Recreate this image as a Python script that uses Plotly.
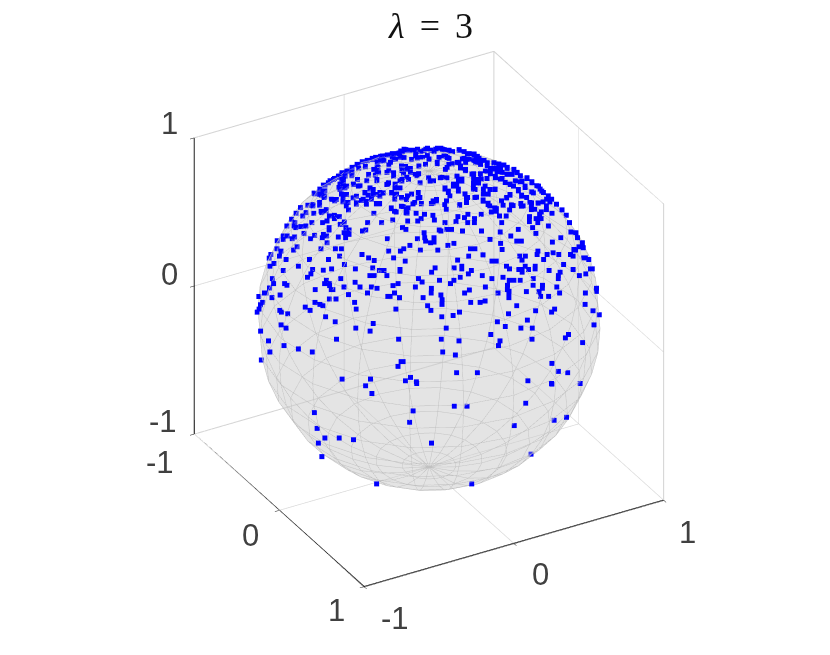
import numpy as np
import plotly.graph_objects as go

TICKS = [-1, 0, 1]
TITLE = "<i>λ</i>\u2006 =\u2006 3"
LAT_DEG = list(range(-90, 91, 9))
LON_DEG = list(range(0, 360, 18))
RIGHT = np.array([0.493, 0.870, 0.0])
UP = np.array([-0.435, 0.27, 0.864])
VIEW = np.cross(RIGHT, UP)
VIEW = VIEW / np.linalg.norm(VIEW)

# Sample points: (rightward, upward) on the sphere's face,
# in 1/516 of the sphere radius from its centre. The depth follows from the unit sphere.
north_west = [(-15,510),(-25,503),(-45,506),(-50,493),(-15,488),(-30,483),(-45,480),(-10,478),(-80,506),(-90,500),(-100,496),(-120,493),(-135,490),(-155,486),(-170,483),(-180,476),(-195,473),(-210,470),(-222,460),(-240,453),(-255,440),(-270,433),(-278,423),(-292,420),(-305,413),(-320,400),
(-95,483),(-120,478),(-125,468),(-145,473),(-165,468),(-162,453),(-165,443),(-200,456),(-130,443),(-135,438),(-80,456),(-70,450),(-90,443),(-85,433),(-65,438),(-35,450),(-20,440),(-45,428),(-75,423),(-95,413),(-110,403),(-132,403),(-170,430),(-190,430),(-165,413),(-240,428),(-265,418),(-275,403),(-265,398),(-278,393),(-235,403),(-215,398),(-195,413),(-185,388),(-200,378),(-175,373),(-190,370),(-155,378),(-145,376),(-120,378),(-105,373),(-72,368),(-60,373),(-40,378),(-35,363),(-270,373),(-265,353),(-250,348),(-255,338),(-225,343),(-205,358),(-180,358),(-195,343),(-165,345),(-155,345),(-110,358),(-90,363),(-50,348),(-30,345),(-85,336),(-120,330),(-105,320),(-75,328),(-72,316),(-45,316),(-20,313),(-30,300),(-70,293),(-40,293),(-85,273),(-75,268),(-115,296),(-148,288),(-172,316),(-190,288),(-195,266),(-205,263),(-248,326),(-260,290),(-270,283),(-255,273),(-260,258),(-255,243),(-245,253),(-245,266),
(-352,376),(-335,388),(-320,383),(-330,370),(-322,363),(-300,358),(-290,353),(-335,348),(-335,340),(-355,338),(-370,340),(-392,333),(-405,316),(-385,308),(-375,318),(-352,316),(-328,318),(-315,323),(-305,308),(-290,310),(-290,300),(-275,306),(-357,288),(-325,288),(-312,293),(-305,273),(-305,266),(-272,283),(-418,298),(-408,288),(-410,278),(-405,273),(-390,276),(-375,278),(-432,278),(-380,256),(-430,248),(-442,248),(-442,238),(-415,240),(-408,245),(-360,240),(-348,250),(-325,243),(-322,253),(-312,248),(-310,228),(-277,245),(-462,235),(-460,210),(-478,193),(-485,183),(-448,203),(-452,188),(-432,178),(-410,206),(-400,216),(-328,210),(-285,210),(-267,210),(-272,188),(-305,178),(-362,178),(-205,193),(-185,183),(-168,175),(-125,203),(-110,183),(-130,240),(-62,220),(-80,210),(-90,203),(-30,206),(-75,173),(-40,240),(-20,258),(-18,243),(-15,233)]

north_east = [(15,510),(25,510),(35,506),(5,500),(20,483),(40,486),(50,480),(55,500),(80,506),(95,500),(105,493),(125,493),(135,486),(140,473),(125,473),(100,468),(90,478),(75,468),(60,463),(15,468),(10,448),(30,443),(45,453),(85,450),(100,443),(120,433),(145,433),(165,458),(185,466),(200,463),(215,460),(225,453),(245,446),(255,438),(265,428),(285,420),(300,410),(315,398),(325,388),(335,378),(350,368),(360,358),(375,343),(392,326),(405,310),(415,288),(420,260),(435,258),(440,243),(455,228),(458,213),(430,208),(475,178),(465,183),
(185,448),(175,438),(195,440),(210,438),(225,433),(190,426),(205,418),(220,408),(235,403),(250,413),(265,410),(280,393),(300,380),(260,383),(270,370),(285,363),(165,420),(148,418),(125,420),(125,406),(140,406),(155,388),(125,388),(90,418),(80,413),(75,403),(65,403),(30,423),(5,413),(40,388),(50,378),(55,368),(80,388),(100,373),(108,363),(105,348),(85,340),(130,363),(155,373),(170,373),(190,388),(155,356),(170,346),(175,338),(180,320),(195,330),(210,353),(215,340),(225,363),(235,370),(240,341),(268,345),(275,338),(235,326),(225,308),(205,308),(212,288),(295,348),(300,338),(320,346),(345,358),(345,338),(355,350),(310,328),(330,320),(325,313),(295,306),(315,300),(330,300),(320,288),(295,291),(362,316),(352,278),(305,273),(315,256),(262,268),(208,260),(240,248),(258,233),(272,233),(210,226),(178,238),(215,208),(150,313),(130,300),(110,313),(100,303),(80,306),(110,288),(130,288),(75,291),(42,288),(45,328),(45,353),(15,353),(5,353),(0,345),(5,310),(10,296),(25,266),(30,263),(48,268),(62,268),(95,263),(152,263),(70,226),(52,220),(22,206),(10,243),(10,230),(0,228),(120,210),(133,210),(115,188),(158,192),(185,173),(198,173),(82,176),(268,188),(285,188),(275,176),(320,193),(322,203),(350,193),(340,178),(385,193),(365,230),(368,198),(390,243),(420,193),(435,206),(445,216),(428,188),(460,183)]

south_west = [(-480,158),(-468,166),(-440,145),(-395,158),(-352,148),(-320,146),(-295,150),(-257,163),(-224,150),(-172,153),(-152,145),(-138,145),(-90,148),(-90,143),(-357,135),(-367,125),(-472,121),(-468,106),(-480,93),(-490,78),(-495,78),(-472,64),(-448,72),(-435,106),(-428,101),(-343,88),(-310,116),(-315,106),(-300,106),(-300,100),(-295,88),(-290,88),(-267,121),(-257,96),(-224,110),(-209,96),(-180,130),(-167,130),(-129,130),(-175,96),(-158,92),(-110,100),(-95,106),(-34,121),(-23,111),(-43,96),(-186,78),(-243,73),(-300,60),(-280,60),(-125,68),(-118,68),(-105,78),(-90,64),(-19,64),(-514,68),(-500,50),(-506,43),(-510,30),(-520,21),(-448,26),(-443,21),(-424,16),(-372,36),(-357,26),(-343,50),(-328,44),(-319,40),(-224,50),(-219,30),(-100,30),(-5,40),(-310,7),(-281,-8),(-443,-17),(-428,-27),(-504,-36),(-167,-13),(-219,-27),(-176,-36),(-480,-65),(-433,-79),(-390,-89),(-348,-98),(-276,-60),(-90,-60),(-475,-98),(-500,-122),(-81,-127),(-75,-127),(-90,-141),(-257,-179),(-172,-179),(-52,-174),(-67,-184),(-34,-187)]

south_east = [(15,153),(72,153),(95,158),(95,150),(124,145),(115,135),(5,140),(91,125),(72,116),(62,106),(29,116),(157,130),(186,121),(167,96),(119,87),(105,78),(5,92),(5,78),(34,72),(38,58),(38,44),(124,50),(152,50),(167,54),(91,21),(72,11),(38,7),(5,26),(52,-27),(38,-60),(91,-65),(43,-98),(81,-107),(86,-160),(148,-160),(186,-46),(205,-8),(229,-22),(238,16),(205,78),(238,83),(238,73),(238,64),(233,101),(233,88),(219,125),(238,116),(252,116),(271,116),(229,158),(238,150),(266,148),(276,148),(276,140),(285,158),(295,148),(315,158),(315,150),(310,121),(310,101),(338,101),(338,92),(290,82),(328,82),(333,68),(357,68),(357,145),(400,163),(390,140),(385,130),(385,121),(381,96),(390,78),(429,148),(448,130),(467,135),(481,150),(486,150),(262,40),(319,25),(295,-3),(276,-27),(310,-27),(367,21),(376,30),(467,78),(500,92),(500,83),(467,44),(491,25),(510,13),(495,-17),(419,-46),(410,-56),(310,-60),(462,-70),(214,-65),(210,-79),(371,-132),(391,-156),(419,-160),(300,-184),(371,-192),(457,-192)]

south_cap = [(-186,-199),(-167,-222),(-33,-192),(-42,-274),(-52,-308),(81,-260),(119,-260),(295,-251),(262,-318),(372,-194),(381,-302),(418,-293),(-338,-279),(-329,-326),(-305,-355),(-262,-355),(-219,-360),(-324,-370),(-314,-412),(15,-370),(-147,-492),(138,-492),(314,-403)]

crown_west = [(-5,504),(-20,507),(-35,500),(-45,507),(-60,504),(-75,504),(-85,507),(-95,502),(-105,494),(-120,494),(-135,490),(-150,487),(-165,482),(-180,480),(-195,474),(-210,470),(-225,462),(-240,452),(-255,442),(-270,437),(-280,427),(-295,417),(-310,407),(-325,400),(-335,387),(-325,382),
(-50,487),(-62,477),(-85,482),(-98,487),(-110,477),(-115,492),(-130,460),(-155,472),(-165,452),(-160,437),(-170,430),(-175,447),(-200,454),(-220,450),(-240,437),(-260,427),(-270,417),(-275,402),(-265,407),(-260,392),(-275,387),(-255,397),(-235,402),(-223,417),(-190,432),(-165,417),(-135,402),(-130,407),(-115,437),(-115,427),(-92,457),(-75,447),(-65,450),(-40,457),(-20,462),(-35,482),(-10,477),(-15,442),(-40,434),(-50,432),(-10,422),(-5,412),(-35,407),(-70,417),(-90,417),(-110,392),(-95,392),(-90,412),(-120,377),(-145,377),(-155,367),(-170,372),(-185,392),(-175,387),(-220,397),(-225,367),(-235,362),(-255,372),(-265,367),(-295,357),(-285,357),(-195,352),(-210,354),(-225,347),(-200,377),(-165,344),(-155,344),(-110,372),(-90,362),(-75,357),(-55,344),(-30,344),(-40,362),(-120,332),(-110,322),(-90,337),(-70,332),(-75,317),(-350,374),(-335,372),(-320,367),(-325,382),(-355,342),(-335,347),(-315,327),(-330,322),(-265,350)]

crown_east = [(10,507),(20,510),(30,507),(50,504),(60,500),(80,504),(95,500),(110,494),(125,487),(140,480),(155,474),(185,467),(200,462),(215,460),(225,450),(245,447),(255,437),(270,412),(285,422),(300,407),(320,397),(330,382),(350,367),(355,352),
(35,487),(45,482),(20,482),(15,464),(50,462),(60,464),(80,467),(95,480),(110,477),(130,467),(145,462),(165,467),(175,450),(190,450),(205,447),(225,432),(240,432),(210,420),(190,422),(175,434),(160,442),(145,434),(125,434),(100,447),(85,457),(40,447),(30,447),(10,450),(5,430),(25,422),(45,422),(75,427),(90,412),(75,402),(65,397),(125,407),(140,417),(160,397),(130,387),(125,392),(175,387),(190,387),(245,397),(235,402),(260,387),(280,397),(270,367),(305,377),(40,392),(50,382),(80,382),(100,374),(105,362),(85,342),(135,364),(155,352),(170,342),(15,357),(5,347),(45,352),(40,342),(190,332),(210,352),(225,362),(235,372),(245,339),(270,337),(300,347),(320,347),(335,350),(300,327),(345,327),(195,322)]

face_points = np.array(north_west + north_east + south_west + south_east + south_cap + crown_west + crown_east, dtype=float) / 516
norm = np.maximum(np.hypot(face_points[:, 0], face_points[:, 1]), 1)
r = face_points[:, 0] / norm
u = face_points[:, 1] / norm
d = np.sqrt(np.clip(1 - r**2 - u**2, 0, None))
pts = np.outer(r, RIGHT) + np.outer(u, UP) + np.outer(d, VIEW)

def edge(xs, ys, zs, color, width):
    return go.Scatter3d(x=xs, y=ys, z=zs, mode="lines", line=dict(color=color, width=width), hoverinfo="skip", showlegend=False)

fig = go.Figure()
lat = np.radians(np.array(LAT_DEG)); lon = np.radians(np.array(LON_DEG + [360]))
X = np.outer(np.cos(lat), np.cos(lon)); Y = np.outer(np.cos(lat), np.sin(lon)); Z = np.outer(np.sin(lat), np.ones_like(lon))
fig.add_trace(go.Surface(x=X, y=Y, z=Z, surfacecolor=np.zeros_like(X), colorscale=[[0, "#cacaca"], [1, "#cacaca"]], showscale=False, opacity=0.3,
    lighting=dict(ambient=1, diffuse=0, specular=0, fresnel=0), hoverinfo="skip"))
lx, ly, lz = [], [], []
for i in range(X.shape[0]):
    lx += list(X[i]) + [None]; ly += list(Y[i]) + [None]; lz += list(Z[i]) + [None]
for j in range(X.shape[1]):
    lx += list(X[:, j]) + [None]; ly += list(Y[:, j]) + [None]; lz += list(Z[:, j]) + [None]
fig.add_trace(edge(lx, ly, lz, "#bcbcbc", 1))
light = "#cfcfcf"; dark = "#111111"
fig.add_trace(edge([-1, -1, 1, 1], [-1, 1, 1, 1], [1, 1, 1, -1], light, 2))
fig.add_trace(edge([-1, -1, 1], [-1, 1, 1], [-1, -1, -1], light, 2))
fig.add_trace(edge([-1, -1], [1, 1], [-1, 1], light, 2))
fig.add_trace(edge([-1, -1, 1, 1], [-1, -1, -1, 1], [1, -1, -1, -1], dark, 2.5))
fig.add_trace(go.Scatter3d(x=pts[:, 0], y=pts[:, 1], z=pts[:, 2], mode="markers", marker=dict(color="#0000ff", size=2.6, symbol="square"), hoverinfo="skip", showlegend=False))

axis = dict(range=[-1, 1], tickvals=TICKS, showticklabels=False, title="", showbackground=False, showspikes=False,
    gridcolor="#d6d6d6", gridwidth=1.5, zeroline=False, showline=False, ticks="outside", ticklen=5, tickcolor=dark, autorange=False)
tick_font = dict(family="Liberation Sans", size=31, color="#404040")
def label(x, y, z, v, dx, dy):
    return dict(x=x, y=y, z=z, text=str(v), showarrow=False, font=tick_font, xshift=dx, yshift=dy, xanchor="center", yanchor="middle")
notes = []
for v, dx, dy in zip(TICKS, (-31, -25, -25), (13, 12, 14)):
    notes.append(label(-1, -1, v, v, dx, dy))
for v, (dx, dy) in zip(TICKS, ((-34, -28), (-29, -25), (-28, -23))):
    notes.append(label(v, -1, -1, v, dx, dy))
for v, (dx, dy) in zip(TICKS, ((31, -31), (27, -31), (24, -32))):
    notes.append(label(1, v, -1, v, dx, dy))
ASPECT = 1.107
fig.update_layout(width=830, height=655, margin=dict(l=0, r=0, t=0, b=0), paper_bgcolor="white", showlegend=False,
    title=dict(text=TITLE, x=423/830, y=1-17/655, xanchor="center", yanchor="middle", font=dict(family="Liberation Serif", size=36, color="#111111")),
    scene=dict(domain=dict(x=[0.0146, 1], y=[0.0497, 1]), xaxis=axis, yaxis=axis, zaxis=axis, aspectmode="manual", aspectratio=dict(x=ASPECT, y=ASPECT, z=ASPECT), annotations=notes,
        camera=dict(projection=dict(type="orthographic"), up=dict(x=0, y=0, z=1), center=dict(x=0, y=0, z=0),
            eye=dict(x=float(VIEW[0]*1.7), y=float(VIEW[1]*1.7), z=float(VIEW[2]*1.7)))))
fig.write_html("out.html")
